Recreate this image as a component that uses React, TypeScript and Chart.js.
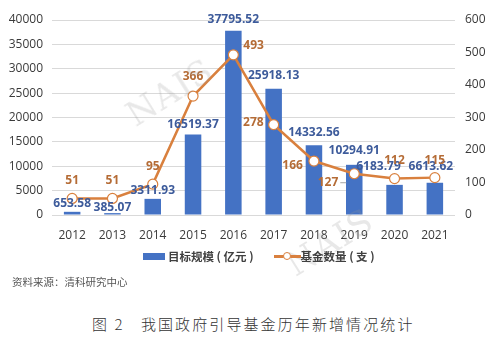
import React, { useEffect, useRef } from 'react';
import { Chart, registerables } from 'chart.js';

Chart.register(...registerables);

const years = ['2012', '2013', '2014', '2015', '2016', '2017', '2018', '2019', '2020', '2021'];
const targetScale = [653.58, 385.07, 3311.93, 16519.37, 37795.52, 25918.13, 14332.56, 10294.91, 6183.79, 6613.62];
const fundCount = [51, 51, 95, 366, 493, 278, 166, 127, 112, 115];
const countLabelSide = ['top', 'top', 'top', 'top', 'right', 'left', 'left', 'left', 'top', 'top'];
const countLabelDx = [0, 0, 0, 0, 10, -10, -11, -16, 0, 0];
const countLabelDy = [-18, -18, -18, -19, -9, -2, 5, 9, -18, -17];
const barLabelLift = [8, 6, 8, 10, 11, 13, 13, 14, 18, 16];
const barLabelShift = [0, 0, 0, 0, 0, 0, 0, 0, -16, -4];
const leftMax = 40000;
const leftStep = 5000;
const rightMax = 600;
const rightStep = 100;

const BAR = '#4472C4';
const LINE = '#D9803E';
const BAR_LABEL = '#3D5B9B';
const LINE_LABEL = '#B56C36';
const TICK = '#3A3A3A';
const FONT = '"Open Sans", "Noto Sans", sans-serif';

const labelPlugin = {
  id: 'valueLabels',
  afterDatasetsDraw(chart: any) {
    const ctx = chart.ctx;
    ctx.save();
    ctx.font = `bold 12px ${FONT}`;
    ctx.textBaseline = 'middle';
    const barMeta = chart.getDatasetMeta(0);
    barMeta.data.forEach((el: any, i: number) => {
      ctx.textAlign = 'center';
      ctx.fillStyle = BAR_LABEL;
      ctx.fillText(targetScale[i].toFixed(2), el.x + barLabelShift[i], el.y - barLabelLift[i]);
    });
    const lineMeta = chart.getDatasetMeta(1);
    lineMeta.data.forEach((el: any, i: number) => {
      ctx.fillStyle = LINE_LABEL;
      const side = countLabelSide[i];
      const txt = String(fundCount[i]);
      ctx.textAlign = side === 'top' ? 'center' : side === 'right' ? 'left' : 'right';
      ctx.fillText(txt, el.x + countLabelDx[i], el.y + countLabelDy[i]);
      if (i === 7) {
        // short leader line from label to point
        ctx.strokeStyle = '#A6A6A6';
        ctx.lineWidth = 1;
        ctx.beginPath();
        ctx.moveTo(el.x + countLabelDx[i] + 2, el.y + countLabelDy[i]);
        ctx.lineTo(el.x + countLabelDx[i] + 8, el.y + countLabelDy[i]);
        ctx.stroke();
      }
    });
    ctx.restore();
  },
};

export default function App() {
  const ref = useRef<HTMLCanvasElement | null>(null);

  useEffect(() => {
    if (!ref.current) return;
    const chart = new Chart(ref.current, {
      type: 'bar',
      data: {
        labels: years,
        datasets: [
          {
            type: 'bar',
            label: '目标规模（亿元）',
            data: targetScale,
            backgroundColor: BAR,
            yAxisID: 'y',
            barPercentage: 0.41,
            categoryPercentage: 1,
            order: 2,
          },
          {
            type: 'line',
            label: '基金数量（支）',
            data: fundCount,
            borderColor: LINE,
            borderWidth: 2.5,
            pointRadius: 5,
            pointBorderWidth: 1.2,
            pointBackgroundColor: '#ffffff',
            pointBorderColor: LINE,
            yAxisID: 'y1',
            tension: 0,
            order: 1,
          },
        ],
      },
      options: {
        animation: false,
        responsive: false,
        maintainAspectRatio: false,
        layout: { padding: { top: 20, left: 0, right: 0, bottom: 0 } },
        plugins: {
          tooltip: { enabled: false },
          legend: { display: false },
        },
        scales: {
          x: {
            grid: { display: false },
            border: { display: false },
            ticks: { color: TICK, font: { family: FONT, size: 12 }, padding: 5 },
            afterFit: (s: any) => { s.height = 25; },
          },
          y: {
            position: 'left',
            min: 0,
            max: leftMax,
            ticks: {
              stepSize: leftStep,
              color: TICK,
              font: { family: FONT, size: 12 },
              padding: 9,
              callback: (v: any) => String(v),
            },
            grid: { color: '#D9D9D9', lineWidth: 1, drawTicks: false },
            border: { display: false },
            afterFit: (s: any) => { s.width = 52; },
          },
          y1: {
            position: 'right',
            min: 0,
            max: rightMax,
            ticks: {
              stepSize: rightStep,
              color: TICK,
              font: { family: FONT, size: 12 },
              padding: 10,
              callback: (v: any) => String(v),
            },
            grid: { drawOnChartArea: false, drawTicks: false },
            border: { display: false },
            afterFit: (s: any) => { s.width = 45; },
          },
        },
      },
      plugins: [labelPlugin],
    } as any);
    return () => chart.destroy();
  }, []);

  const wm: React.CSSProperties = {
    position: 'absolute',
    fontFamily: '"DejaVu Serif", serif',
    fontSize: 34,
    color: 'rgba(150,150,150,0.22)',
    transform: 'rotate(-32deg)',
    pointerEvents: 'none',
    letterSpacing: 1,
  };

  const legendText: React.CSSProperties = {
    fontFamily: '"Noto Sans CJK SC", sans-serif',
    fontSize: 11.5,
    fontWeight: 'bold',
    color: '#404040',
    whiteSpace: 'pre',
    lineHeight: '14px',
  };

  return (
    <div style={{ position: 'fixed', left: 0, top: 0, width: 500, height: 340, background: '#fff', overflow: 'hidden' }}>
      <canvas ref={ref} width={500} height={240} style={{ position: 'absolute', left: 0, top: 0, width: 500, height: 240 }} />
      <div style={{ ...wm, left: 122, top: 72 }}>NAIS</div>
      <div style={{ ...wm, left: 282, top: 222 }}>NAIS</div>
      <div style={{ position: 'absolute', left: 143, top: 249, height: 14, display: 'flex', alignItems: 'center' }}>
        <span style={{ display: 'inline-block', width: 22, height: 7, background: BAR, marginRight: 3 }} />
        <span style={legendText}>{'目标规模 ( 亿元 )'}</span>
        <span style={{ display: 'inline-block', position: 'relative', width: 27, height: 10, marginLeft: 20 }}>
          <span style={{ position: 'absolute', left: 0, top: 4, width: 27, height: 2.5, background: LINE }} />
          <span
            style={{
              position: 'absolute',
              left: 9,
              top: 1,
              width: 6,
              height: 6,
              borderRadius: '50%',
              background: '#fff',
              border: `1.2px solid ${LINE}`,
            }}
          />
        </span>
        <span style={legendText}>{'基金数量 ( 支 )'}</span>
      </div>
      <div
        style={{
          position: 'absolute',
          left: 12,
          top: 274,
          fontFamily: '"Noto Sans CJK SC", serif',
          fontSize: 10.5,
          color: '#555',
          whiteSpace: 'nowrap',
        }}
      >
        资料来源：清科研究中心
      </div>
      <div
        style={{
          position: 'absolute',
          left: 92,
          top: 313,
          fontFamily: '"Noto Sans CJK SC", serif',
          fontSize: 15,
          fontWeight: 300,
          color: '#333',
          letterSpacing: 2.1,
          whiteSpace: 'pre',
        }}
      >
        {'图 2   我国政府引导基金历年新增情况统计'}
      </div>
    </div>
  );
}
